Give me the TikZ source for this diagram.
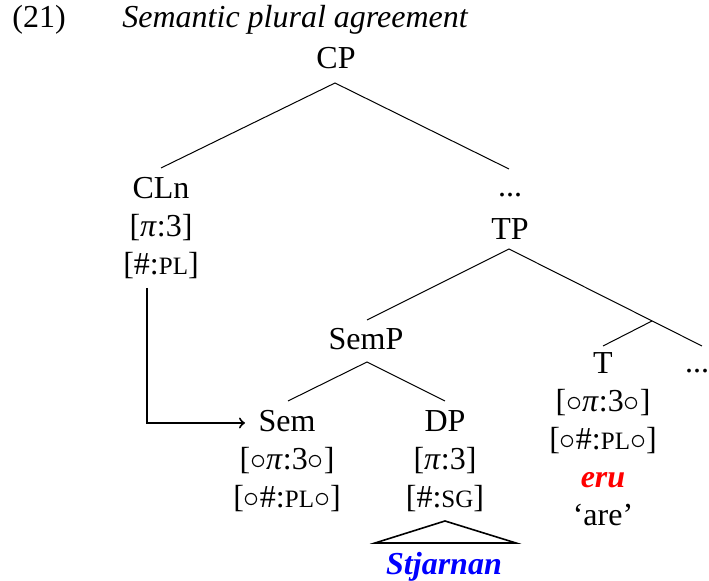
\documentclass[tikz,border=0pt]{standalone}
\usepackage{fix-cm}
\usepackage{amsmath}
\usepackage{amssymb}
\usepackage{fontspec}
\setmainfont{Liberation Serif}
\usepackage{tikz}
\newcommand{\treefont}{\fontsize{16}{19}\selectfont}
\newcommand{\smc}[1]{{\fontsize{12.5}{19}\selectfont #1}}
\newcommand{\ppi}{\textit{π}}
\tikzstyle{every node}=[inner sep=0pt,anchor=north,align=center,font=\treefont]
\tikzstyle{branch}=[line width=0.5pt]
\tikzstyle{agree}=[line width=1pt,->]

\begin{document}
\begin{tikzpicture}[x=0.5pt,y=-0.5pt]
  \useasboundingbox (0,0) rectangle (709,581);
  % title
  \node[anchor=base west] (exno) at (12,28) {(21)};
  \node[anchor=base west] (title) at (122,28) {\textit{Semantic plural agreement}};
  % labels
  \node (cp) at (336,47) {CP};
  \node (cln) at (161,177) {CLn\\{[}\ppi:3{]}\\{[}\#:\smc{PL}{]}};
  \node[anchor=base] (dotsa) at (510,197) {...};
  \node (tp) at (510,218) {TP};
  \node (semp) at (366,328) {SemP};
  \node (sem) at (287,410) {Sem\\{[}$\circ$\ppi:3$\circ${]}\\{[}$\circ$\#:\smc{PL}$\circ${]}};
  \node (dp) at (445,410) {DP\\{[}\ppi:3{]}\\{[}\#:\smc{SG}{]}};
  \node (t) at (603,352) {T\\{[}$\circ$\ppi:3$\circ${]}\\{[}$\circ$\#:\smc{PL}$\circ${]}\\
    \textcolor{red}{\textbf{\textit{eru}}}\\`are'};
  \node[anchor=base] (dotsb) at (697,373) {...};
  \node (stj) at (444,552) {\textcolor{blue}{\textbf{\textit{Stjarnan}}}};
  % branch points
  \coordinate (cp-b) at (335,83);
  \coordinate (cln-t) at (161,168);
  \coordinate (dotsa-t) at (509,169);
  \coordinate (tp-b) at (509,249);
  \coordinate (semp-t) at (367,320);
  \coordinate (tp-r) at (702,346);
  \coordinate (t-j) at (652,321);
  \coordinate (t-t) at (603,346);
  \coordinate (semp-b) at (367,362);
  \coordinate (sem-t) at (288,401);
  \coordinate (dp-t) at (445,401);
  \coordinate (dp-b) at (445,521);
  \coordinate (tri-l) at (375,543);
  \coordinate (tri-r) at (516,543);
  \coordinate (arr-s) at (147,288);
  \coordinate (arr-e) at (245,423);
  % branches
  \draw[branch] (cln-t) -- (cp-b) -- (dotsa-t);
  \draw[branch] (semp-t) -- (tp-b) -- (tp-r);
  \draw[branch] (t-j) -- (t-t);
  \draw[branch] (sem-t) -- (semp-b) -- (dp-t);
  \draw[line width=0.8pt] (dp-b) -- (tri-l) -- (tri-r) -- cycle;
  % agreement arrow
  \draw[agree] (arr-s) |- (arr-e);
\end{tikzpicture}
\end{document}
